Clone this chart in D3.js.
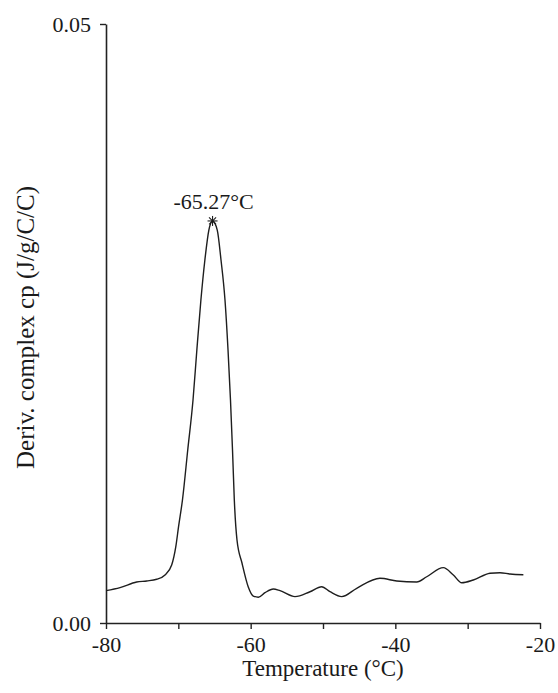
<!DOCTYPE html>
<html>
<head>
<meta charset="utf-8">
<script src="https://cdn.jsdelivr.net/npm/d3@7"></script>
<style>
  html, body { margin: 0; padding: 0; background: #fff; }
  svg { display: block; }
  text { font-family: "Liberation Serif", "Times New Roman", serif; fill: #1a1a1a; }
</style>
</head>
<body>
<script>
// Derivative of complex heat capacity vs temperature
const temperatures = [
  -80, -78.06, -75.76, -74.37, -72.99, -71.84, -70.92, -70.35,
  -69.97, -69.43, -68.70, -67.97, -67.44, -66.88, -66.33, -65.78, -65.27,
  -64.62, -64.10, -63.55, -63.13, -62.79, -62.51, -62.26, -61.89, -61.20,
  -60.33, -59.64, -58.94, -58.02, -56.87, -55.94, -53.87, -51.80, -50.18,
  -49.03, -47.41, -45.34, -42.12, -39.81, -37.04, -35.66, -33.37, -31.98,
  -30.82, -29.22, -26.91, -25.53, -24.14, -22.30
];
const derivCp = [
  0.00270, 0.00295, 0.00342, 0.00351, 0.00365, 0.00401, 0.00484, 0.00637,
  0.00804, 0.01027, 0.01444, 0.01861, 0.02279, 0.02696, 0.03030, 0.03280, 0.03356,
  0.03280, 0.03030, 0.02696, 0.02279, 0.01861, 0.01444, 0.01027, 0.00693, 0.00501,
  0.00301, 0.00225, 0.00215, 0.00253, 0.00284, 0.00270, 0.00220, 0.00261, 0.00303,
  0.00261, 0.00220, 0.00290, 0.00373, 0.00351, 0.00342, 0.00386, 0.00462, 0.00401,
  0.00336, 0.00359, 0.00415, 0.00420, 0.00409, 0.00403
];
const peakTemp = -65.27;
const peakValue = 0.03356;
const peakLabel = "-65.27°C";

const xTicks = [-80, -70, -60, -50, -40, -30, -20];
const xTickLabels = ["-80", "", "-60", "", "-40", "", "-20"];
const yTicks = [0.00, 0.05];
const yTickLabels = ["0.00", "0.05"];
const xTitle = "Temperature (°C)";
const yTitle = "Deriv. complex cp (J/g/C/C)";

const W = 558, H = 693;
const margin = { left: 106, right: 18, top: 24, bottom: 70 };

const svg = d3.select("body").append("svg").attr("width", W).attr("height", H);

const x = d3.scaleLinear().domain([-80, -20]).range([margin.left, W - margin.right]);
const y = d3.scaleLinear().domain([0, 0.05]).range([H - margin.bottom, margin.top]);

// X axis
const xAxis = d3.axisBottom(x)
  .tickValues(xTicks)
  .tickFormat((d, i) => xTickLabels[i])
  .tickSize(6)
  .tickPadding(7)
  .tickSizeOuter(0);
const gx = svg.append("g")
  .attr("transform", `translate(0,${y(0)})`)
  .call(xAxis);
gx.select(".domain").attr("stroke", "#222").attr("stroke-width", 1.6);
gx.selectAll(".tick line").attr("stroke", "#222").attr("stroke-width", 1.4);
gx.selectAll(".tick text").attr("font-size", 22).attr("font-family", "Liberation Serif").attr("fill", "#1a1a1a");

// Y axis
const yAxis = d3.axisLeft(y)
  .tickValues(yTicks)
  .tickFormat((d, i) => yTickLabels[i])
  .tickSize(6)
  .tickPadding(9)
  .tickSizeOuter(0);
const gy = svg.append("g")
  .attr("transform", `translate(${x(-80)},0)`)
  .call(yAxis);
gy.select(".domain").attr("stroke", "#222").attr("stroke-width", 1.6);
gy.selectAll(".tick line").attr("stroke", "#222").attr("stroke-width", 1.4);
gy.selectAll(".tick text").attr("font-size", 22).attr("font-family", "Liberation Serif").attr("fill", "#1a1a1a");

// Axis titles
svg.append("text")
  .attr("x", (x(-80) + x(-20)) / 2)
  .attr("y", 676)
  .attr("text-anchor", "middle")
  .attr("font-size", 23)
  .text(xTitle);

svg.append("text")
  .attr("transform", `translate(34,${(y(0) + y(0.05)) / 2 + 4}) rotate(-90)`)
  .attr("text-anchor", "middle")
  .attr("font-size", 25)
  .text(yTitle);

// Curve
const pts = temperatures.map((t, i) => [t, derivCp[i]]);
const line = d3.line()
  .x(d => x(d[0]))
  .y(d => y(d[1]))
  .curve(d3.curveMonotoneX);
svg.append("path")
  .datum(pts)
  .attr("fill", "none")
  .attr("stroke", "#1e1e1e")
  .attr("stroke-width", 1.4)
  .attr("d", line);

// Peak marker and label
const px = x(peakTemp), py = y(peakValue);
const mk = svg.append("g").attr("stroke", "#1e1e1e").attr("stroke-width", 1.1);
mk.append("line").attr("x1", px - 5).attr("x2", px + 5).attr("y1", py).attr("y2", py);
mk.append("line").attr("x1", px).attr("x2", px).attr("y1", py - 5).attr("y2", py + 5);
mk.append("line").attr("x1", px - 3.5).attr("x2", px + 3.5).attr("y1", py - 3.5).attr("y2", py + 3.5);
mk.append("line").attr("x1", px - 3.5).attr("x2", px + 3.5).attr("y1", py + 3.5).attr("y2", py - 3.5);

svg.append("text")
  .attr("x", px + 1)
  .attr("y", py - 12)
  .attr("text-anchor", "middle")
  .attr("font-size", 22)
  .text(peakLabel);
</script>
</body>
</html>
